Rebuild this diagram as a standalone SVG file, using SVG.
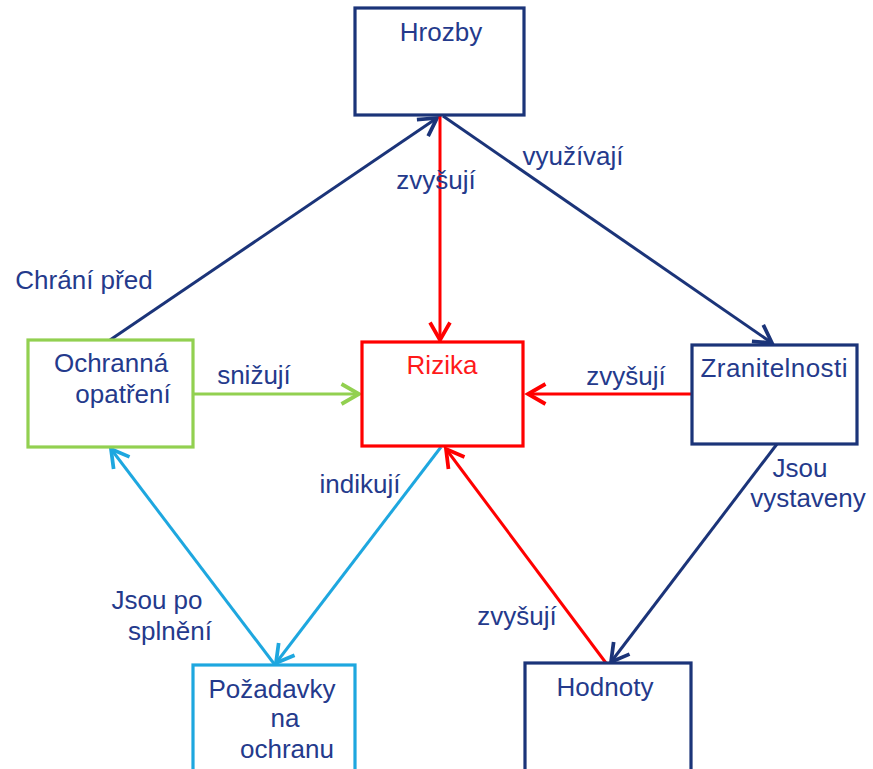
<svg xmlns="http://www.w3.org/2000/svg" width="873" height="769" viewBox="0 0 873 769">
  <style>
    .box { fill: #ffffff; stroke-width: 3.2; }
    .navy { stroke: #1b3479; }
    .red { stroke: #ff0000; }
    .green { stroke: #92d050; }
    .cyan { stroke: #1ea7df; }
    text { font-family: "Liberation Sans", Arial, sans-serif; font-size: 26px; fill: #243a8c; text-anchor: middle; }
    text.rtxt { fill: #ff1a1a; }
    .edge { fill: none; stroke-width: 3; }
  </style>
  <defs>
    <marker id="ah-navy" markerUnits="userSpaceOnUse" markerWidth="30" markerHeight="30" refX="0" refY="0" viewBox="-20 -12 24 24" orient="auto">
      <path d="M-14,-8 L0,0 L-14,8" fill="none" stroke="#1b3479" stroke-width="3"/>
    </marker>
    <marker id="ah-red" markerUnits="userSpaceOnUse" markerWidth="30" markerHeight="30" refX="0" refY="0" viewBox="-20 -12 24 24" orient="auto">
      <path d="M-14,-8 L0,0 L-14,8" fill="none" stroke="#ff0000" stroke-width="3"/>
    </marker>
    <marker id="ah-green" markerUnits="userSpaceOnUse" markerWidth="30" markerHeight="30" refX="0" refY="0" viewBox="-20 -12 24 24" orient="auto">
      <path d="M-14,-8 L0,0 L-14,8" fill="none" stroke="#92d050" stroke-width="3"/>
    </marker>
    <marker id="ah-cyan" markerUnits="userSpaceOnUse" markerWidth="30" markerHeight="30" refX="0" refY="0" viewBox="-20 -12 24 24" orient="auto">
      <path d="M-14,-8 L0,0 L-14,8" fill="none" stroke="#1ea7df" stroke-width="3"/>
    </marker>
  </defs>

  <!-- connectors and their labels -->
  <g id="connectors">
    <line class="edge navy" x1="110" y1="340" x2="437" y2="118" marker-end="url(#ah-navy)"/>
    <line class="edge navy" x1="443" y1="116" x2="772" y2="343" marker-end="url(#ah-navy)"/>
    <line class="edge red" x1="440" y1="116" x2="440" y2="340" marker-end="url(#ah-red)"/>
    <line class="edge red" x1="692" y1="394" x2="528" y2="394" marker-end="url(#ah-red)"/>
    <line class="edge green" x1="193" y1="394" x2="359" y2="394" marker-end="url(#ah-green)"/>
    <line class="edge navy" x1="777" y1="444" x2="611" y2="662" marker-end="url(#ah-navy)"/>
    <line class="edge red" x1="606" y1="663" x2="446" y2="449" marker-end="url(#ah-red)"/>
    <line class="edge cyan" x1="441" y1="447" x2="276" y2="663" marker-end="url(#ah-cyan)"/>
    <line class="edge cyan" x1="275" y1="665" x2="111" y2="449" marker-end="url(#ah-cyan)"/>

    <text x="436" y="189">zvyšují</text>
    <text x="573" y="165">využívají</text>
    <text x="84" y="289">Chrání před</text>
    <text x="254" y="384">snižují</text>
    <text x="626" y="385">zvyšují</text>
    <text x="360" y="493">indikují</text>
    <text x="800" y="477">Jsou</text>
    <text x="808" y="507">vystaveny</text>
    <text x="157" y="609">Jsou po</text>
    <text x="170" y="640">splnění</text>
    <text x="517" y="625">zvyšují</text>
  </g>

  <g id="hrozby">
    <rect class="box navy" x="355" y="8" width="169" height="107"/>
    <text x="441" y="41">Hrozby</text>
  </g>

  <g id="rizika">
    <rect class="box red" x="362" y="342" width="161" height="104"/>
    <text class="rtxt" x="442" y="374">Rizika</text>
  </g>

  <g id="zranitelnosti">
    <rect class="box navy" x="692" y="345" width="165" height="99"/>
    <text x="774" y="377" textLength="147" lengthAdjust="spacing">Zranitelnosti</text>
  </g>

  <g id="ochranna-opatreni">
    <rect class="box green" x="28" y="340" width="165" height="107"/>
    <text x="111" y="372">Ochranná</text>
    <text x="123" y="403">opatření</text>
  </g>

  <g id="pozadavky">
    <rect class="box cyan" x="193" y="665" width="162" height="110"/>
    <text x="272" y="698">Požadavky</text>
    <text x="285" y="727">na</text>
    <text x="287" y="758">ochranu</text>
  </g>

  <g id="hodnoty">
    <rect class="box navy" x="525" y="663" width="166" height="112"/>
    <text x="605" y="696">Hodnoty</text>
  </g>
</svg>
